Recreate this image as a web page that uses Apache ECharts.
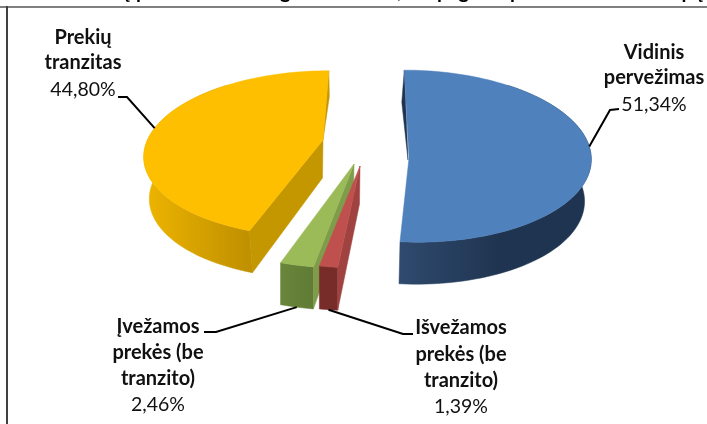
<!DOCTYPE html>
<html><head><meta charset="utf-8">
<style>html,body{margin:0;padding:0;background:#fff}#c{width:707px;height:424px}</style>
<script src="https://cdn.jsdelivr.net/npm/echarts@6/dist/echarts.min.js"></script>
</head><body><div id="c"></div>
<script>
// ---- data ----
const categories = ["Vidinis pervežimas", "Išvežamos prekės (be tranzito)", "Įvežamos prekės (be tranzito)", "Prekių tranzitas"];
const shares = [51.34, 1.39, 2.46, 44.80];
const nameLines = [["Vidinis", "pervežimas"], ["Išvežamos", "prekės (be", "tranzito)"], ["Įvežamos", "prekės (be", "tranzito)"], ["Prekių", "tranzitas"]];
const titlePieces = ["Krovinių", "pervežimas", "geležinkeliais,", "pagal", "pervežimo", "tipą"];

// ---- layout and style ----
const VPX = 367, KP = 0.153;
const layout = [
  { order:0, ox:410, oy:143, ax:409, ay:158, R:178, H:84, depth:42, apexDepth:0, shrink:0.97, top:"#4F81BD", wall:["#2F4A6E","#1F3450"], wallX:[400,500], cut:null, sliver:[-2.5,32], sliverCol:"#1F3450",
    labelX:654, labelY:[53,78,105], elbow:[[610,110],[619,109]] },
  { order:2, ox:357.5, oy:172, ax:360, ay:166, R:181, H:81, depth:43, apexDepth:38, shrink:1, top:"#C0504D", wall:["#772C2A","#772C2A"], wallX:[320,345], cut:"#A04340", labelX:461, labelY:[328,355,381,407], elbow:[[403,334],[413,334]] },
  { order:1, ox:354, oy:173, ax:354, ay:164, R:190, H:81, depth:42, apexDepth:32, shrink:1, top:"#9BBB59", wall:["#68853A","#5F7A34"], wallX:[283,318], cut:"#7F9C4A", labelX:158, labelY:[327,353,379,405], elbow:[[216,332],[204,332]] },
  { order:3, ox:323, oy:141, ax:323, ay:140, R:176, H:81, depth:42, apexDepth:38, shrink:0.975, top:"#FDBF00", wall:["#EBB200","#BF9000"], wallX:[150,250], cut:"#C49600", sliver:[0.5,26], sliverCol:"#C49600",
    labelX:83, labelY:[38,63,90], elbow:[[127,97],[118,97]] }
];
const titleSlots = [[130,"right"],[136,"left"],[280,"left"],[437,"left"],[510,"left"],[703,"right"]];

const total = shares.reduce((a, b) => a + b, 0);
const starts = [];
shares.reduce((acc, v, i) => { starts[i] = acc; return acc + v / total * 360; }, 0);

function rim(l, deg, lower) {
  const t = deg * Math.PI / 180, u = Math.sin(t), v = Math.cos(t), s = 1 / (1 + KP * v);
  let x = VPX + (l.ox - VPX + l.R * u) * s, y = l.oy - l.H * v * s;
  if (lower) { x = VPX + (x - VPX) * l.shrink; y += l.depth; }
  return [x, y];
}
function arc(l, a, b, lower) {
  const out = [], n = Math.max(2, Math.ceil(Math.abs(b - a) / 2));
  for (let i = 0; i <= n; i++) out.push(rim(l, a + (b - a) * i / n, lower));
  return out;
}
const poly = (points, fill, z) => ({ type: "polygon", shape: { points }, style: { fill, stroke: fill, lineWidth: 0.5 }, z2: z });
const line = (points) => ({ type: "polyline", shape: { points }, style: { stroke: "#000", lineWidth: 2, fill: null }, z2: 60 });
const txt = (text, x, y, bold) => ({ type: "text", x, y, z2: 70, style: { text, fill: "#111", align: "center", verticalAlign: "middle",
  font: bold ? "bold 20px Lato, sans-serif" : "19.5px Lato, sans-serif" } });

function renderItem(params, api) {
  const i = params.dataIndex, l = layout[i], val = api.value(1);
  const a0 = starts[i], a1 = a0 + val / total * 360, children = [];
  const base = l.order * 10;
  // outer wall (only the part facing the viewer)
  const w0 = Math.max(a0, 40), w1 = Math.min(a1, 320);
  const g = new echarts.graphic.LinearGradient(l.wallX[0], 0, l.wallX[1], 0, [{ offset: 0, color: l.wall[0] }, { offset: 1, color: l.wall[1] }], true);
  children.push(poly(arc(l, w0, w1, false).concat(arc(l, w1, w0, true)), g, base + 2));
  // cut wall, seen from the right
  if (l.cut) {
    children.push(poly([[l.ax, l.ay], [l.ax - 0.5, l.ay + l.apexDepth], rim(l, a0, true), rim(l, a0, false)], l.cut, base + 3));
  }
  // thin back wall
  if (l.sliver) {
    const angle = i === 3 ? a1 : a0, p = rim(l, angle, false);
    children.push(poly([p, [p[0] + l.sliver[0], p[1] + l.sliver[1]], [l.ax - (i === 0 ? 1 : 0), l.ay + (i === 0 ? 2 : 0)]], l.sliverCol, base + 1));
  }
  // top face
  children.push(poly([[l.ax, l.ay]].concat(arc(l, a0, a1, false)), l.top, base + 5));
  // leader line from the slice's mid angle
  const mid = (a0 + a1) / 2, anchor = rim(l, mid, i === 1 || i === 2);
  children.push(line([anchor].concat(l.elbow)));
  // labels
  const names = nameLines[i];
  names.forEach((t, k) => children.push(txt(t, l.labelX, l.labelY[k], true)));
  children.push(txt(val.toFixed(2).replace(".", ",") + "%", l.labelX, l.labelY[names.length], false));
  return { type: "group", children };
}

const chart = echarts.init(document.getElementById("c"), null, { renderer: "canvas" });
chart.setOption({
  animation: false,
  backgroundColor: "#fff",
  graphic: [
    { type: "rect", shape: { x: 0, y: 6, width: 707, height: 2 }, style: { fill: "#808080" }, silent: true },
    { type: "rect", shape: { x: 6, y: 6, width: 2, height: 418 }, style: { fill: "#404040" }, silent: true }
  ].concat(titlePieces.map((t, i) => ({
    type: "text", x: titleSlots[i][0], y: 1.5,
    style: { text: t, fill: "#000", align: titleSlots[i][1], verticalAlign: "bottom", font: "bold 20px Lato, sans-serif" }, silent: true
  }))),
  series: [{
    type: "custom", coordinateSystem: "none", renderItem, silent: true,
    data: shares.map((v, i) => ({ name: categories[i], value: [i, v] }))
  }]
});
</script></body></html>
